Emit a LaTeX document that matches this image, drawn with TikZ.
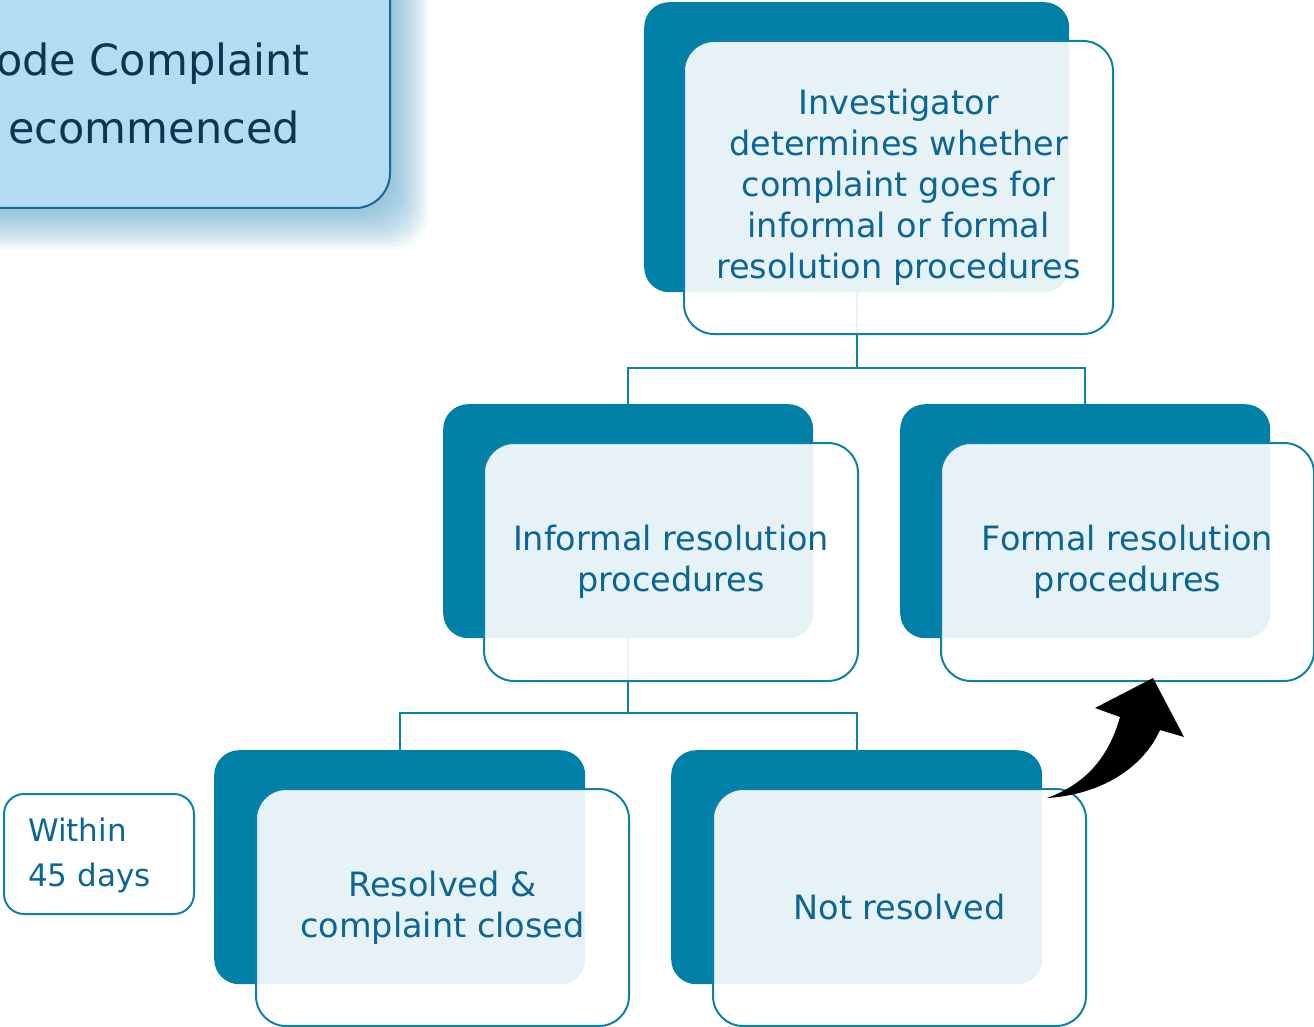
\documentclass[tikz,border=0pt]{standalone}
\usepackage{fontspec}
\setmainfont{DejaVu Sans}
\definecolor{tealdark}{HTML}{0080A6}
\definecolor{tealline}{HTML}{0E82A6}
\definecolor{txtblue}{HTML}{0B6696}
\definecolor{skyfill}{HTML}{B3DCF2}
\definecolor{skyline}{HTML}{1A6797}
\definecolor{skytext}{HTML}{0C3650}
\definecolor{shadowcol}{HTML}{3F93BE}
\begin{document}
\begin{tikzpicture}[x=1pt,y=-1pt,
  back/.style={fill=tealdark, rounded corners=25pt, anchor=north west, inner sep=0pt},
  front/.style={fill=white, fill opacity=0.9, text opacity=1, draw=tealline, line width=2pt,
    rounded corners=30pt, anchor=north west, inner sep=0pt, text=txtblue,
    font=\fontsize{33.5}{41}\selectfont, align=center},
  conn/.style={draw=tealline, line width=2.2pt}]
\useasboundingbox (0,0) rectangle (1314,1027);

% top-left box with shadow
\foreach \i in {1,...,12}
  \fill[shadowcol, fill opacity=0.06, rounded corners=35pt] (-60,-60) rectangle (392+3*\i, 210+3.3*\i);
\path[fill=skyfill, draw=skyline, line width=2pt, rounded corners=35pt] (-60,-60) rectangle (390,208);
\node[anchor=east, text=skytext, font=\fontsize{43}{60}\selectfont, inner sep=0pt] (h1) at (310,64) {ode Complaint};
\node[anchor=east, text=skytext, font=\fontsize{43}{60}\selectfont, inner sep=0pt] (h2) at (300,127) {ecommenced};

% dark back boxes
\node[back, minimum width=425pt, minimum height=290pt] (t0) at (644,2) {};
\node[back, minimum width=370pt, minimum height=234pt] (i0) at (443,404) {};
\node[back, minimum width=370pt, minimum height=234pt] (f0) at (900,404) {};
\node[back, minimum width=371pt, minimum height=234pt] (r0) at (214,750) {};
\node[back, minimum width=371pt, minimum height=234pt] (n0) at (671,750) {};

% connectors
\coordinate (j1) at (t0.south |- 0,368);
\coordinate (j2) at (i0.south |- 0,713);
\draw[conn] (t0.south) -- (j1) -| (i0.north);
\draw[conn] (j1) -| (f0.north);
\draw[conn] (i0.south) -- (j2) -| (r0.north);
\draw[conn] (j2) -| (n0.north);

% front boxes
\node[front, minimum width=429pt, minimum height=293pt] (t) at (683,40)
  {Investigator\\determines whether\\complaint goes for\\informal or formal\\resolution procedures};
\node[front, minimum width=374pt, minimum height=238pt] (i) at (483,442)
  {Informal resolution\\procedures};
\node[front, minimum width=373pt, minimum height=238pt] (f) at (940,442)
  {Formal resolution\\procedures};
\node[front, minimum width=373pt, minimum height=237pt] (r) at (255,788)
  {Resolved \&\\complaint closed};
\node[front, minimum width=373pt, minimum height=237pt] (n) at (712,788)
  {Not resolved};

% within box
\node[draw=tealline, line width=2pt, rounded corners=20pt, anchor=north west, inner sep=0pt,
  minimum width=190pt, minimum height=120pt] (w) at (3,793) {};
\node[anchor=west, text=txtblue, font=\fontsize{31}{45}\selectfont, align=left, inner sep=0pt]
  (wt) at (28,855) {Within\\45 days};

% curved block arrow
\fill[black] (1047,798) .. controls (1083,785) and (1108,760) .. (1120,717)
  -- (1095,708) -- (1153,678) -- (1184,737) -- (1160,730)
  .. controls (1142,770) and (1098,795) .. cycle;
\end{tikzpicture}
\end{document}
